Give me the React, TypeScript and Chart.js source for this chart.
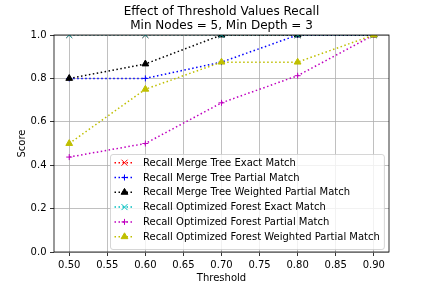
import React, { useEffect, useRef } from 'react';
import { Chart, registerables } from 'chart.js';

Chart.register(...registerables);

const thresholds = [0.5, 0.6, 0.7, 0.8, 0.9];
const mtExact = [1, 1, 1, 1, 1];
const mtPartial = [0.8, 0.8, 0.875, 1, 1];
const mtWeighted = [0.8, 0.8667, 1, 1, 1];
const ofExact = [1, 1, 1, 1, 1];
const ofPartial = [0.4375, 0.5, 0.6875, 0.8125, 1];
const ofWeighted = [0.5, 0.75, 0.875, 0.875, 1];

const xTicks = [0.5, 0.55, 0.6, 0.65, 0.7, 0.75, 0.8, 0.85, 0.9];
const yTicks = [0, 0.2, 0.4, 0.6, 0.8, 1.0];

const seriesNames = [
  'Recall Merge Tree Exact Match',
  'Recall Merge Tree Partial Match',
  'Recall Merge Tree Weighted Partial Match',
  'Recall Optimized Forest Exact Match',
  'Recall Optimized Forest Partial Match',
  'Recall Optimized Forest Weighted Partial Match',
];
const seriesValues = [mtExact, mtPartial, mtWeighted, ofExact, ofPartial, ofWeighted];
const seriesColors = ['#ff0000', '#0000ff', '#000000', '#00bfbf', '#bf00bf', '#bfbf00'];
const seriesMarkers = ['x', '+', '^', 'x', '+', '^'];

const titleLines = ['Effect of Threshold Values Recall', 'Min Nodes = 5, Min Depth = 3'];
const xLabel = 'Threshold';
const yLabel = 'Score';

const FONT = "'DejaVu Sans', sans-serif";

function markerStyle(m: string) {
  if (m === 'x') return { pointStyle: 'crossRot', radius: 4.24 };
  if (m === '+') return { pointStyle: 'cross', radius: 3 };
  return { pointStyle: 'triangle', radius: 3.9 };
}

function drawMarker(ctx: CanvasRenderingContext2D, m: string, x: number, y: number, color: string) {
  ctx.save();
  ctx.strokeStyle = color;
  ctx.fillStyle = color;
  ctx.lineWidth = 1;
  ctx.setLineDash([]);
  ctx.beginPath();
  if (m === 'x') {
    ctx.moveTo(x - 3, y - 3); ctx.lineTo(x + 3, y + 3);
    ctx.moveTo(x - 3, y + 3); ctx.lineTo(x + 3, y - 3);
    ctx.stroke();
  } else if (m === '+') {
    ctx.moveTo(x - 3, y); ctx.lineTo(x + 3, y);
    ctx.moveTo(x, y - 3); ctx.lineTo(x, y + 3);
    ctx.stroke();
  } else {
    ctx.moveTo(x, y - 3.9);
    ctx.lineTo(x + 3.4, y + 1.95);
    ctx.lineTo(x - 3.4, y + 1.95);
    ctx.closePath();
    ctx.fill();
    ctx.stroke();
  }
  ctx.restore();
}

const overlayPlugin = {
  id: 'mplOverlay',
  afterDraw(chart: any) {
    const ctx: CanvasRenderingContext2D = chart.ctx;
    const a = chart.chartArea;
    ctx.save();
    // frame
    ctx.strokeStyle = '#000';
    ctx.lineWidth = 0.8;
    ctx.setLineDash([]);
    ctx.strokeRect(a.left, a.top, a.right - a.left, a.bottom - a.top);

    // title
    ctx.fillStyle = '#000';
    ctx.font = `12px ${FONT}`;
    ctx.textAlign = 'center';
    ctx.textBaseline = 'alphabetic';
    const cx = (a.left + a.right) / 2;
    ctx.fillText(titleLines[0], cx, 14.7);
    ctx.fillText(titleLines[1], cx, 28.5);

    // legend
    ctx.font = `10px ${FONT}`;
    let maxW = 0;
    seriesNames.forEach((n) => { maxW = Math.max(maxW, ctx.measureText(n).width); });
    const boxW = 4 + 20 + 7.5 + maxW + 5.5;
    const boxH = 95;
    const bx = Math.round(a.right - 4 - boxW);
    const by = a.bottom - 3 - boxH;
    ctx.beginPath();
    if ((ctx as any).roundRect) (ctx as any).roundRect(bx - 0.5, by + 0.5, boxW, boxH, 2.5);
    else ctx.rect(bx - 0.5, by + 0.5, boxW, boxH);
    ctx.fillStyle = 'rgba(255,255,255,0.8)';
    ctx.fill();
    ctx.strokeStyle = 'rgba(204,204,204,0.8)';
    ctx.lineWidth = 1;
    ctx.stroke();
    seriesNames.forEach((n, i) => {
      const ry = by + 8.7 + i * 14.8;
      const hx = bx + 3.5;
      ctx.save();
      ctx.strokeStyle = seriesColors[i];
      ctx.lineWidth = 1.5;
      ctx.setLineDash([1.5, 2.5]);
      ctx.beginPath();
      ctx.moveTo(hx, ry);
      ctx.lineTo(hx + 20, ry);
      ctx.stroke();
      ctx.restore();
      drawMarker(ctx, seriesMarkers[i], hx + 10, ry, seriesColors[i]);
      ctx.fillStyle = '#000';
      ctx.textAlign = 'left';
      ctx.textBaseline = 'middle';
      ctx.fillText(n, bx + 32, ry + 0.5);
    });
    ctx.restore();
  },
};

export default function App() {
  const ref = useRef<HTMLCanvasElement>(null);
  useEffect(() => {
    if (!ref.current) return;
    Chart.defaults.color = '#000';
    Chart.defaults.font.family = FONT;
    Chart.defaults.font.size = 10;
    const datasets = seriesNames.map((name, i) => {
      const ms = markerStyle(seriesMarkers[i]);
      return {
        label: name,
        data: thresholds.map((t, j) => ({ x: t, y: seriesValues[i][j] })),
        borderColor: seriesColors[i],
        backgroundColor: seriesColors[i],
        borderWidth: 1.5,
        borderDash: [1.5, 2.5],
        pointStyle: ms.pointStyle,
        pointRadius: ms.radius,
        pointBorderWidth: 1,
        pointBorderColor: seriesColors[i],
        pointBackgroundColor: seriesColors[i],
        tension: 0,
        fill: false,
        clip: 0,
        order: seriesNames.length - i,
      };
    });
    const chart = new Chart(ref.current, {
      type: 'line',
      data: { datasets } as any,
      options: {
        animation: false,
        responsive: false,
        maintainAspectRatio: false,
        devicePixelRatio: 1,
        layout: { padding: { left: 0, right: 43, top: 35, bottom: 0 } },
        plugins: { legend: { display: false }, tooltip: { enabled: false }, title: { display: false } },
        scales: {
          x: {
            type: 'linear',
            min: 0.48,
            max: 0.92,
            afterBuildTicks: (s: any) => { s.ticks = xTicks.map((v) => ({ value: v })); },
            afterFit: (s: any) => { s.height = 36; },
            ticks: { callback: (v: any) => Number(v).toFixed(2), padding: 3, maxRotation: 0, autoSkip: false, font: { size: 10 } },
            grid: { color: '#b0b0b0', lineWidth: 0.8, tickColor: '#000', tickLength: 4, tickWidth: 0.8 },
            border: { display: false },
            title: { display: true, text: xLabel, font: { size: 10 }, padding: { top: 0, bottom: 4 } },
          },
          y: {
            type: 'linear',
            min: 0,
            max: 1,
            afterBuildTicks: (s: any) => { s.ticks = yTicks.map((v) => ({ value: v })); },
            afterFit: (s: any) => { s.width = 54; },
            ticks: { callback: (v: any) => Number(v).toFixed(1), padding: 3.5, autoSkip: false, font: { size: 10 } },
            grid: { color: '#b0b0b0', lineWidth: 0.8, tickColor: '#000', tickLength: 4, tickWidth: 0.8 },
            border: { display: false },
            title: { display: true, text: yLabel, font: { size: 10 }, padding: { top: 16, bottom: 0 } },
          },
        },
      } as any,
      plugins: [overlayPlugin],
    });
    return () => chart.destroy();
  }, []);
  return (
    <div style={{ position: 'absolute', left: 0, top: 0, width: 432, height: 288, background: '#fff' }}>
      <canvas ref={ref} width={432} height={288} style={{ display: 'block', width: 432, height: 288 }} />
    </div>
  );
}
